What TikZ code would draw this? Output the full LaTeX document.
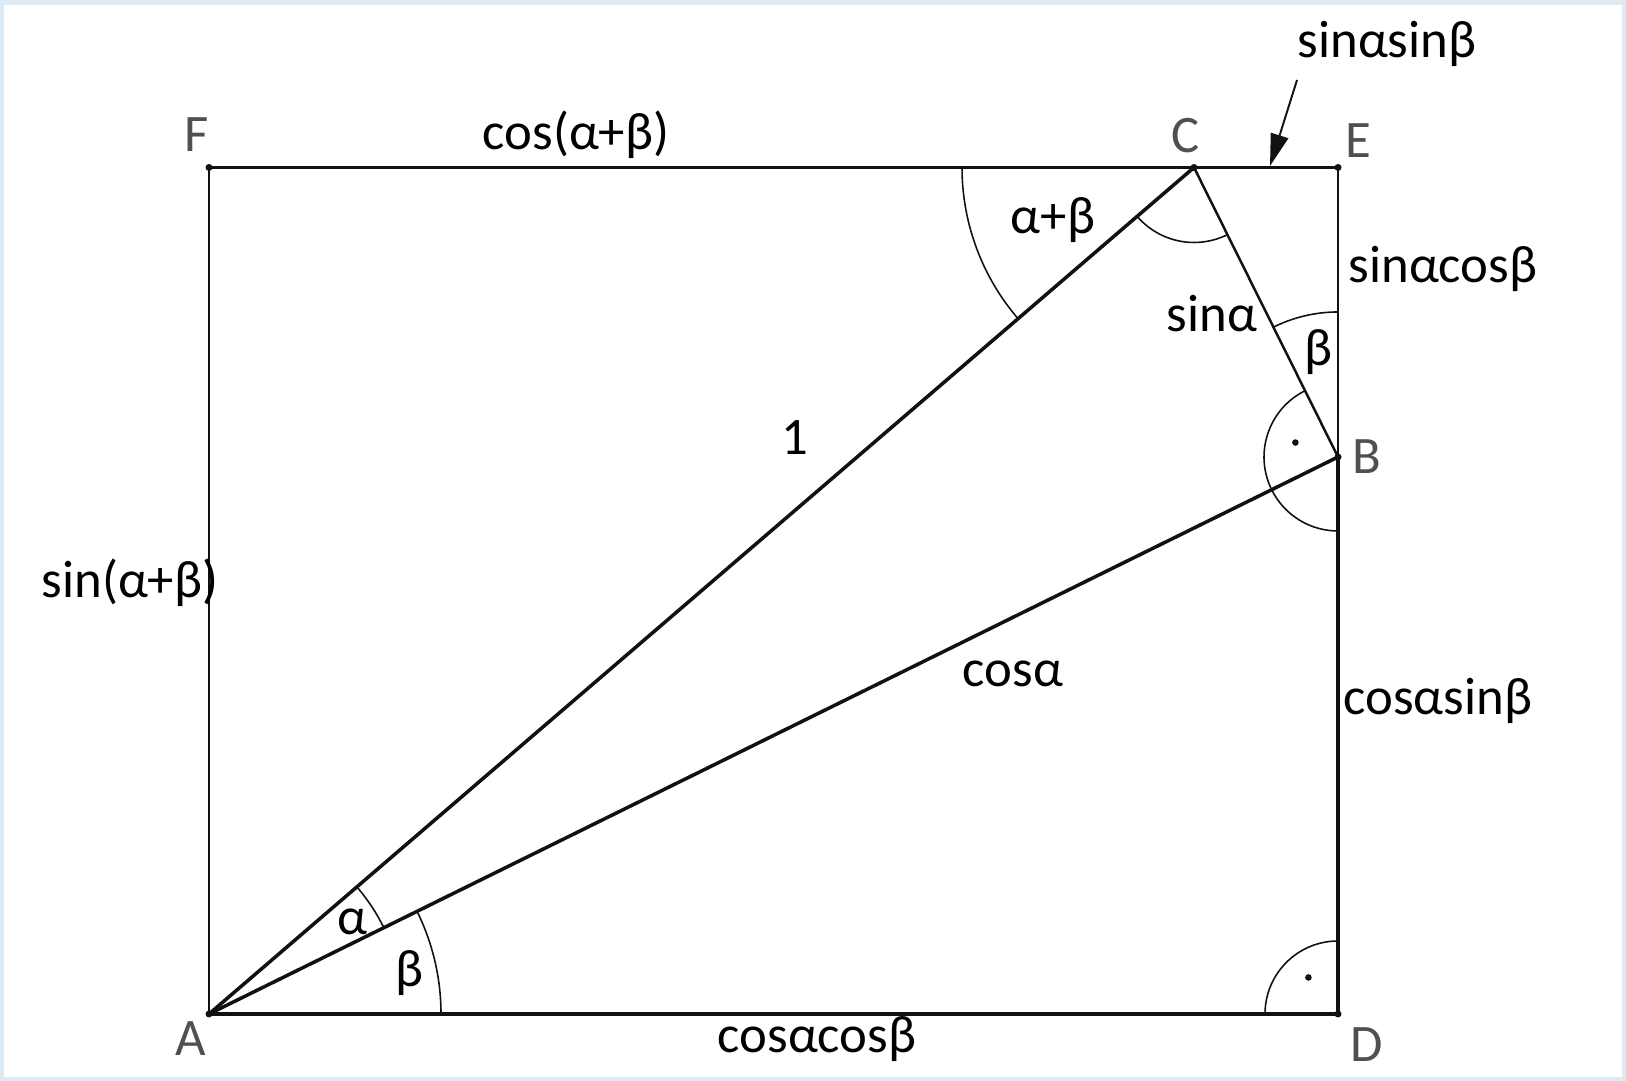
\documentclass[tikz,border=0pt]{standalone}
\usepackage{fontspec}
\setmainfont{Carlito}
\usepackage{tikz}
\usetikzlibrary{arrows.meta,calc}
\definecolor{Frame}{HTML}{DDE9F5}
\definecolor{Ink}{HTML}{111111}
\definecolor{Pointlabel}{HTML}{505050}
\tikzset{
  side/.style={draw=Ink,line width=.7pt},
  heavyside/.style={draw=Ink,line width=1pt},
  anglearc/.style={draw=Ink,line width=.45pt},
  vertexdot/.style={fill=Ink},
  vertexlabel/.style={text=Pointlabel,inner sep=0pt,font=\fontsize{15}{18}\selectfont},
  measure/.style={text=black,inner sep=0pt,font=\fontsize{15}{18}\selectfont},
  pointer/.style={-{Triangle[length=3.2mm,width=1.8mm]},draw=Ink,line width=.55pt}
}

\begin{document}
\begin{tikzpicture}
      % frame and page size
      \fill[Frame] (0,0) rectangle (16.26,10.81);
      \fill[white] (.04,.035) rectangle (16.22,10.76);
      \useasboundingbox (0,0) rectangle (16.26,10.81);
      % corners
      \coordinate (A) at (2.09,.67);
      \coordinate (D) at (13.38,.67);
      \coordinate (E) at (13.38,9.135);
      \coordinate (F) at (2.09,9.135);
      \coordinate (C) at (11.94,9.135);
      \coordinate (B) at (13.38,6.24);
      % sides
      \draw[side] (A) -- (F) -- (C) -- (E) -- (B);
      \draw[side] (C) -- (B);
      \draw[heavyside] (A) -- (D) -- (B);
      \draw[heavyside] (A) -- (B);
      \draw[heavyside] (A) -- (C);
      % angles
      \draw[anglearc] ($(A)+(26.26:1.95)$) arc[start angle=26.26,end angle=40.68,radius=1.95];
      \draw[anglearc] ($(A)+(2.32,0)$) arc[start angle=0,end angle=26.26,radius=2.32];
      \draw[anglearc] ($(C)+(-2.32,0)$) arc[start angle=180,end angle=220.68,radius=2.32];
      \draw[anglearc] ($(C)+(220.68:.75)$) arc[start angle=220.68,end angle=296.44,radius=.75];
      \draw[anglearc] ($(B)+(0,1.45)$) arc[start angle=90,end angle=116.44,radius=1.45];
      \draw[anglearc] ($(B)+(116.44:.74)$) arc[start angle=116.44,end angle=270,radius=.74];
      \draw[anglearc] ($(D)+(0,.73)$) arc[start angle=90,end angle=180,radius=.73];
      \fill[vertexdot] ($(B)+(161.3:.45)$) circle (.033);
      \fill[vertexdot] ($(D)+(129:.47)$) circle (.033);
      \foreach \p in {A,B,C,D,E,F}
        \fill[vertexdot] (\p) circle (.035);
      % labels
      \node[vertexlabel] (labA) at (1.905,.425) {A};
      \node[vertexlabel] (labB) at (13.67,6.24) {B};
      \node[vertexlabel] (labC) at (11.86,9.45) {C};
      \node[vertexlabel] (labD) at (13.67,.36) {D};
      \node[vertexlabel] (labE) at (13.58,9.40) {E};
      \node[vertexlabel] (labF) at (1.97,9.46) {F};
      \node[measure] (top) at (5.76,9.46) {cos(α+β)};
      \node[measure] (left) at (1.30,4.98) {sin(α+β)};
      \node[measure] (bottom) at (8.17,.42) {cosαcosβ};
      \node[measure] (upper) at (14.43,8.12) {sinαcosβ};
      \node[measure] (lower) at (14.38,3.80) {cosαsinβ};
      \node[measure] (corner) at (13.87,10.37) {sinαsinβ};
      \node[measure] (hyp) at (7.95,6.43) {1};
      \node[measure] (adj) at (10.13,4.07) {cosα};
      \node[measure] (opp) at (12.12,7.67) {sinα};
      \node[measure] (angAC) at (10.53,8.61) {α+β};
      \node[measure] (angB) at (13.185,7.29) {β};
      \node[measure] (angAa) at (3.52,1.59) {α};
      \node[measure] (angAb) at (4.09,1.08) {β};
      % pointer to CE
      \coordinate (tail) at (12.97,10.01);
      \coordinate (tip) at (12.70,9.15);
      \draw[pointer] (tail) -- (tip);
    \end{tikzpicture}
\end{document}
